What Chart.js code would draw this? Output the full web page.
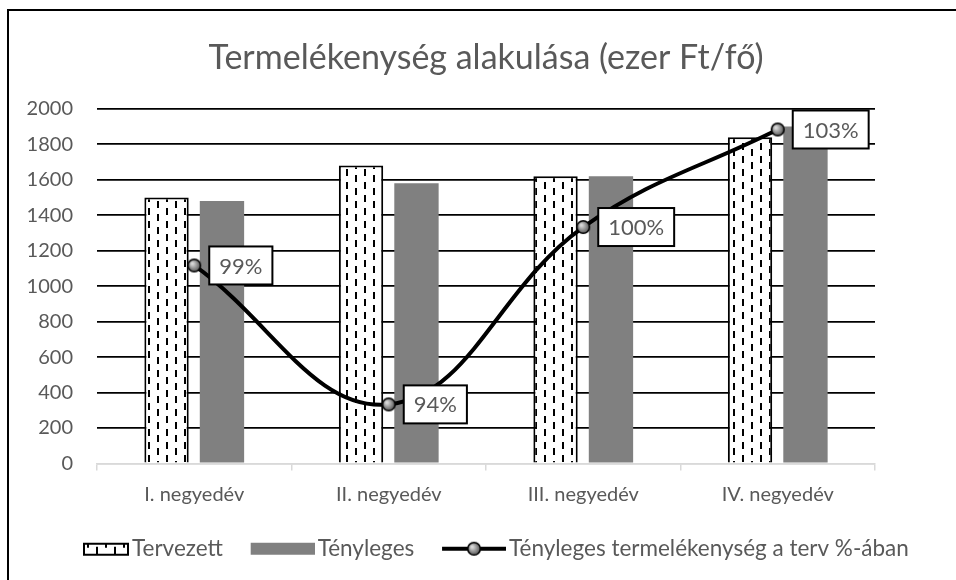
<!DOCTYPE html>
<html>
<head>
<meta charset="utf-8">
<script src="https://cdn.jsdelivr.net/npm/chart.js@4.4.1/dist/chart.umd.min.js"></script>
<style>
  html, body { margin: 0; padding: 0; background: #fff; }
  #wrap { position: relative; width: 956px; height: 580px; overflow: hidden; }
  #frame { position: absolute; left: 7px; top: 9px; width: 1000px; height: 700px;
           border-top: 2px solid #000; border-left: 2px solid #000; }
  #chart { position: absolute; left: 0; top: 0; }
</style>
</head>
<body>
<div id="wrap">
  <div id="frame"></div>
  <canvas id="chart" width="952" height="580"></canvas>
</div>
<script>
// Adatok
const categories = ['I. negyedév', 'II. negyedév', 'III. negyedév', 'IV. negyedév'];
const tervezett = [1500, 1680, 1620, 1840];
const tenyleges = [1480, 1580, 1620, 1900];
const tervSzazalek = [98.7, 94.0, 100.0, 103.3]; // tényleges a terv %-ában

const FONT = 'Lato';
const TEXT = '#595959';

// minta: fehér alap, szaggatott függőleges vonalak
function dashTile() {
    const c = document.createElement('canvas');
    c.width = 18; c.height = 13;
    const g = c.getContext('2d');
    g.fillStyle = '#fff';
    g.fillRect(0, 0, 18, 13);
    g.fillStyle = '#000';
    g.fillRect(4, 0, 2, 7);
    g.fillRect(13, 6, 2, 7);
    return c;
}
const ctx = document.getElementById('chart').getContext('2d');
const dashPattern = ctx.createPattern(dashTile(), 'repeat');

// szürke gömb jelölő
function sphere() {
    const c = document.createElement('canvas');
    c.width = 16; c.height = 16;
    const g = c.getContext('2d');
    const grd = g.createRadialGradient(6, 6, 1, 8, 8, 7);
    grd.addColorStop(0, '#d8d8d8');
    grd.addColorStop(1, '#4a4a4a');
    g.beginPath();
    g.arc(8, 8, 6.3, 0, Math.PI * 2);
    g.fillStyle = grd;
    g.fill();
    g.lineWidth = 1.6;
    g.strokeStyle = '#000';
    g.stroke();
    return c;
}
const marker = sphere();

// jelmagyarázat ikonok (bal oldalon üres sáv = térköz az elemek között)
const ICON_GAP = 22;
function legendIcon(kind) {
    const c = document.createElement('canvas');
    c.width = 64 + ICON_GAP; c.height = 16;
    const g = c.getContext('2d');
    g.translate(ICON_GAP, 0);
    if (kind === 'pattern') {
        g.fillStyle = g.createPattern(dashTile(), 'repeat');
        g.fillRect(18, 2, 45, 12);
        g.lineWidth = 2;
        g.strokeStyle = '#000';
        g.strokeRect(19, 3, 44, 11);
    } else if (kind === 'gray') {
        g.fillStyle = '#808080';
        g.fillRect(0, 2, 64, 12);
    } else {
        g.strokeStyle = '#000';
        g.lineWidth = 4;
        g.beginPath();
        g.moveTo(0, 8); g.lineTo(64, 8);
        g.stroke();
        g.drawImage(marker, 24, 0);
    }
    return c;
}

// százalék címkék keretben
const pctLabels = {
    id: 'pctLabels',
    afterDatasetsDraw(chart) {
        const c = chart.ctx;
        const meta = chart.getDatasetMeta(0);
        c.save();
        c.font = '22px ' + FONT;
        meta.data.forEach((pt, i) => {
            const txt = Math.round(tervSzazalek[i]) + '%';
            const w = c.measureText(txt).width + 20;
            const h = 38;
            const x = pt.x + 15, y = pt.y - h / 2;
            c.fillStyle = '#fff';
            c.fillRect(x, y, w, h);
            c.lineWidth = 2;
            c.strokeStyle = '#000';
            c.strokeRect(x, y, w, h);
            c.fillStyle = TEXT;
            c.textAlign = 'center';
            c.textBaseline = 'middle';
            c.fillText(txt, x + w / 2, y + h / 2 + 1);
        });
        c.restore();
    }
};

new Chart(ctx, {
    type: 'bar',
    data: {
        labels: categories,
        datasets: [
            {
                type: 'line',
                label: 'Tényleges termelékenység a terv %-ában',
                data: tervSzazalek,
                yAxisID: 'y1',
                borderColor: '#000',
                borderWidth: 4,
                tension: 0.4,
                pointStyle: marker,
                order: 0
            },
            {
                label: 'Tervezett',
                data: tervezett,
                backgroundColor: dashPattern,
                borderColor: '#000',
                borderWidth: 2,
                categoryPercentage: 0.57,
                barPercentage: 0.8,
                order: 1
            },
            {
                label: 'Tényleges',
                data: tenyleges,
                backgroundColor: '#808080',
                borderWidth: 0,
                categoryPercentage: 0.57,
                barPercentage: 0.8,
                order: 1
            }
        ]
    },
    options: {
        responsive: false,
        animation: false,
        devicePixelRatio: 1,
        layout: { padding: { left: 8, right: 0, top: 24, bottom: 10 } },
        plugins: {
            tooltip: { enabled: false },
            title: {
                display: true,
                fullSize: false,
                text: 'Termelékenység alakulása (ezer Ft/fő)',
                color: TEXT,
                font: { family: FONT, size: 34, weight: 'normal' },
                padding: { top: 14, bottom: 30 }
            },
            legend: {
                position: 'bottom',
                labels: {
                    usePointStyle: true,
                    pointStyleWidth: 47.5 + ICON_GAP,
                    color: TEXT,
                    font: { family: FONT, size: 22.5 },
                    padding: 14,
                    generateLabels: () => [
                        { text: 'Tervezett', pointStyle: legendIcon('pattern'), fontColor: TEXT, lineWidth: 0 },
                        { text: 'Tényleges', pointStyle: legendIcon('gray'), fontColor: TEXT, lineWidth: 0 },
                        { text: 'Tényleges termelékenység a terv %-ában', pointStyle: legendIcon('line'), fontColor: TEXT, lineWidth: 0 }
                    ]
                }
            }
        },
        scales: {
            x: {
                grid: {
                    drawOnChartArea: false,
                    drawTicks: true,
                    tickLength: 7,
                    color: '#d9d9d9',
                    lineWidth: 1.5
                },
                border: { color: '#d9d9d9', width: 1.5 },
                ticks: { color: TEXT, font: { family: FONT, size: 20 }, padding: 12 },
                afterFit: s => { s.height = 60; }
            },
            y: {
                min: 0,
                max: 2000,
                ticks: {
                    stepSize: 200,
                    color: TEXT,
                    font: { family: FONT, size: 20 },
                    padding: 24,
                    callback: v => String(v)
                },
                grid: {
                    drawTicks: false,
                    color: c => c.tick.value === 0 ? '#d9d9d9' : '#000',
                    lineWidth: 1.8
                },
                border: { display: false },
                afterFit: s => { s.width = 89; }
            },
            y1: {
                position: 'right',
                min: 92,
                max: 104,
                ticks: { display: false },
                grid: { display: false },
                border: { display: false },
                afterFit: s => { s.width = 77; }
            }
        }
    },
    plugins: [pctLabels]
});
</script>
</body>
</html>
